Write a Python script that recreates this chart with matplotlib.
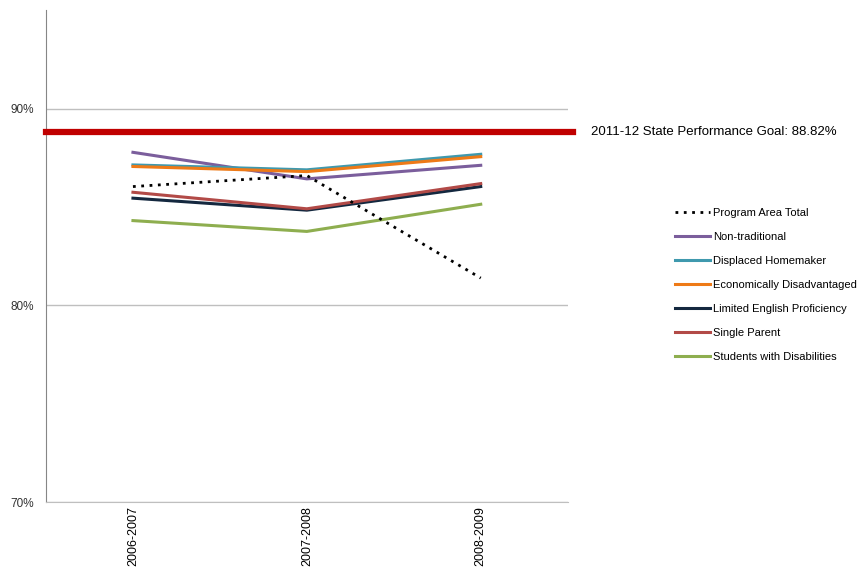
import matplotlib.pyplot as plt
from matplotlib.ticker import FuncFormatter

plt.rcParams['font.family'] = ['Liberation Sans', 'DejaVu Sans']

years = ["2006-2007", "2007-2008", "2008-2009"]
program_total = [86.04, 86.60, 81.39]
non_traditional = [87.78, 86.43, 87.12]
displaced_homemaker = [87.14, 86.89, 87.68]
econ_disadvantaged = [87.06, 86.80, 87.56]
limited_english = [85.45, 84.84, 86.04]
single_parent = [85.75, 84.91, 86.19]
disabilities = [84.31, 83.76, 85.14]
goal = 88.82

fig = plt.figure(figsize=(8.68, 5.7), dpi=100)
ax = fig.add_axes([0.053, 0.119, 0.601, 0.863])

x = range(len(years))
ax.plot(x, program_total, color='black', lw=2, linestyle=(0, (1, 2)),
        label='Program Area Total', zorder=5)
ax.plot(x, non_traditional, color='#7B5E9C', lw=2.2, label='Non-traditional')
ax.plot(x, displaced_homemaker, color='#3F99AE', lw=2.2, label='Displaced Homemaker')
ax.plot(x, econ_disadvantaged, color='#EE7A17', lw=2.2, label='Economically Disadvantaged')
ax.plot(x, limited_english, color='#14283F', lw=2.2, label='Limited English Proficiency')
ax.plot(x, single_parent, color='#B24A47', lw=2.2, label='Single Parent')
ax.plot(x, disabilities, color='#8EAE4F', lw=2.2, label='Students with Disabilities')

ax.axhline(goal, xmin=0, xmax=1.01, color='#C00000', lw=4.5, clip_on=False, zorder=6)
ax.text(1.045, goal, f"2011-12 State Performance Goal: {goal:.2f}%",
        transform=ax.get_yaxis_transform(), va='center', ha='left', fontsize=9.5)

ax.set_xlim(-0.5, 2.5)
ax.set_ylim(70, 95)
ax.set_yticks([70, 80, 90])
ax.yaxis.set_major_formatter(FuncFormatter(lambda v, p: f"{v:.0f}%"))
ax.grid(axis='y', color='#BFBFBF', lw=1)
ax.set_axisbelow(True)
ax.set_xticks(list(x))
ax.set_xticklabels(years, rotation=90, fontsize=9)
ax.tick_params(axis='y', labelsize=8.5, length=0, pad=9, labelcolor='#333333')
ax.tick_params(axis='x', length=0, pad=3)
for side in ['top', 'right']:
    ax.spines[side].set_visible(False)
ax.spines['left'].set_color('#868686')
ax.spines['bottom'].set_color('#BFBFBF')

fig.legend(loc='upper left', bbox_to_anchor=(0.766, 0.652), frameon=False,
           fontsize=8, handlelength=3.2, handletextpad=0.2, labelspacing=1.26)

fig.savefig('out.png', dpi=100)
